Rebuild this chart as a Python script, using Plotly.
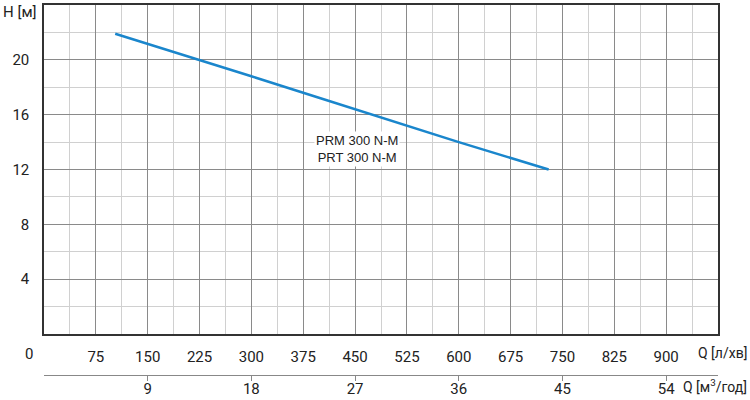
import plotly.graph_objects as go

# pump curve PRM/PRT 300 N-M
flow_lpm = [103, 200, 300, 400, 500, 600, 730]
head_m = [21.9, 20.4, 18.8, 17.2, 15.6, 14.0, 12.0]

q_lpm_ticks = [75, 150, 225, 300, 375, 450, 525, 600, 675, 750, 825, 900]
h_ticks = [4, 8, 12, 16, 20]
q_m3h_ticks = [9, 18, 27, 36, 45, 54]

model_labels = ["PRM 300 N-M", "PRT 300 N-M"]

tick_font = dict(family="Roboto, sans-serif", size=15, color="#222")
unit_font = dict(family="Roboto, sans-serif", size=14, color="#222")

fig = go.Figure()

fig.add_trace(go.Scatter(
    x=flow_lpm, y=head_m, mode="lines",
    line=dict(color="#1a86cc", width=2.5),
    showlegend=False, hoverinfo="skip",
))

# dummy trace so the m3/h axis is drawn
fig.add_trace(go.Scatter(
    x=[0], y=[0], xaxis="x2", yaxis="y", mode="markers",
    marker=dict(opacity=0), showlegend=False, hoverinfo="skip",
))

fig.update_layout(
    width=750, height=400,
    margin=dict(l=44, r=32, t=5, b=25),
    plot_bgcolor="white", paper_bgcolor="white",
    xaxis=dict(
        range=[0, 975], tickvals=q_lpm_ticks, ticktext=[str(v) for v in q_lpm_ticks],
        showgrid=True, gridcolor="#8a8a8a", gridwidth=1,
        minor=dict(dtick=37.5, tick0=0, showgrid=True, gridcolor="#d0d0d0", gridwidth=1),
        showline=True, linecolor="#333", linewidth=1.5, mirror=True,
        ticks="", tickfont=tick_font, ticklabelstandoff=8,
        zeroline=False, anchor="y", automargin=False,
    ),
    xaxis2=dict(
        range=[0, 975 * 60 / 1000], tickvals=q_m3h_ticks,
        overlaying="x", anchor="free", position=0, side="bottom",
        showgrid=False, zeroline=False,
        showline=True, linecolor="#888", linewidth=1,
        ticks="outside", ticklen=5, tickcolor="#888", tickwidth=1,
        tickfont=tick_font, ticklabelstandoff=-5, automargin=False,
    ),
    yaxis=dict(
        range=[0, 24], domain=[0.1108, 1], tickvals=h_ticks,
        showgrid=True, gridcolor="#8a8a8a", gridwidth=1,
        minor=dict(dtick=2, tick0=0, showgrid=True, gridcolor="#d0d0d0", gridwidth=1),
        showline=True, linecolor="#333", linewidth=1.5, mirror=True,
        ticks="", tickfont=tick_font, ticklabelstandoff=10,
        zeroline=False, automargin=False,
    ),
)

annotations = [
    dict(text="<br>".join(model_labels), x=453, y=13.5, xref="x", yref="y",
         showarrow=False, font=dict(family="Liberation Sans, Arial", size=13, color="#222"),
         bgcolor="white", align="center"),
    dict(text="H [м]", xref="paper", yref="paper", x=0, y=1, xanchor="right",
         yanchor="middle", xshift=-5, yshift=-7, showarrow=False, font=tick_font),
    dict(text="0", xref="paper", yref="paper", x=0, y=0.1108, xanchor="center",
         yanchor="top", xshift=-15, yshift=-9, showarrow=False, font=tick_font),
    dict(text="Q [л/хв]", xref="paper", yref="paper", x=(749 - 44) / 674, y=0.1108,
         xanchor="right", yanchor="top", yshift=-9, showarrow=False, font=unit_font),
    dict(text="Q [м<sup>3</sup>/год]", xref="paper", yref="paper", x=(749 - 44) / 674, y=0,
         xanchor="right", yanchor="top", yshift=0, showarrow=False, font=unit_font),
]
fig.update_layout(annotations=annotations)

fig.write_html("out.html", config={"displayModeBar": False},
               post_script="document.body.style.margin='0';")
